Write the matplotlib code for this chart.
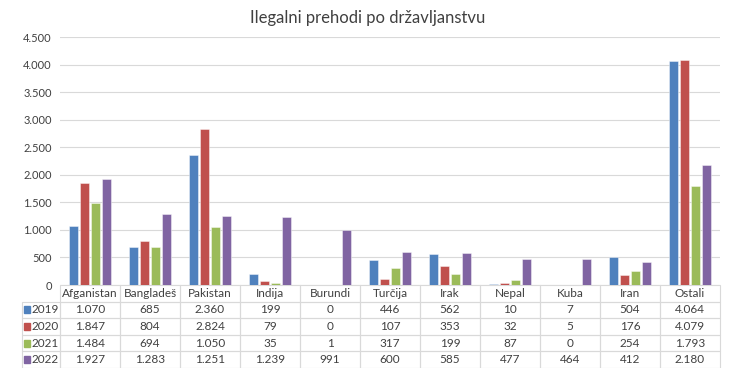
import numpy as np
import matplotlib
matplotlib.use("Agg")
import matplotlib.pyplot as plt

countries = ["Afganistan", "Bangladeš", "Pakistan", "Indija", "Burundi", "Turčija",
             "Irak", "Nepal", "Kuba", "Iran", "Ostali"]
years = ["2019", "2020", "2021", "2022"]
v2019 = [1070, 685, 2360, 199, 0, 446, 562, 10, 7, 504, 4064]
v2020 = [1847, 804, 2824, 79, 0, 107, 353, 32, 5, 176, 4079]
v2021 = [1484, 694, 1050, 35, 1, 317, 199, 87, 0, 254, 1793]
v2022 = [1927, 1283, 1251, 1239, 991, 600, 585, 477, 464, 412, 2180]
yticks = [0, 500, 1000, 1500, 2000, 2500, 3000, 3500, 4000, 4500]

series = [v2019, v2020, v2021, v2022]
colors = ["#4F81BD", "#C0504D", "#9BBB59", "#8064A2"]

def fmt(v):
    return f"{v:,}".replace(",", ".")

plt.rcParams["font.family"] = ["Lato", "DejaVu Sans"]

W, H = 736, 368
fig = plt.figure(figsize=(W / 100, H / 100), dpi=100)
x0, x1, ytop, ybot = 60, 720, 37, 285
ax = fig.add_axes([x0 / W, 1 - ybot / H, (x1 - x0) / W, (ybot - ytop) / H])

n = len(countries)
x = np.arange(n)
pitch = 0.183
bw = 0.15
for i, (vals, c) in enumerate(zip(series, colors)):
    ax.bar(x + (i - 1.5) * pitch, vals, width=bw, color=c,
           edgecolor=(1, 1, 1, 0.5), linewidth=0.6, zorder=3)

ax.set_xlim(-0.5, n - 0.5)
ax.set_ylim(0, 4500)
ax.set_yticks(yticks)
ax.set_yticklabels([fmt(t) for t in yticks], fontsize=8, color="#404040")
ax.tick_params(axis="y", length=0, pad=6)
ax.set_xticks([])
ax.grid(axis="y", color="#D9D9D9", linewidth=0.8, zorder=0)
for s in ax.spines.values():
    s.set_visible(False)

fig.text(0.5, 1 - 18 / H, "Ilegalni prehodi po državljanstvu",
         ha="center", va="center", fontsize=12, color="#404040")

# data table below the plot
axw = x1 - x0
axh = ybot - ytop
lab_w = 38
cell_text = [[""] + countries] + [[y] + [fmt(v) for v in vals] for y, vals in zip(years, series)]
col_w = [lab_w / axw] + [1.0 / n] * n
tbl = ax.table(cellText=cell_text, colWidths=col_w, cellLoc="center",
               bbox=[-lab_w / axw, -83 / axh, (axw + lab_w) / axw, 83 / axh])
tbl.auto_set_font_size(False)
for (r, c), cell in tbl.get_celld().items():
    cell.set_edgecolor("#D9D9D9")
    cell.set_linewidth(0.8)
    cell.get_text().set_fontsize(8.5)
    cell.get_text().set_color("#404040")
    cell.set_facecolor("none")
    if r == 0 and c == 0:
        cell.visible_edges = ""
    if r > 0 and c == 0:
        cell.get_text().set_ha("right")
        cell._loc = "right"
        cell.PAD = 0.03

# legend keys in the row labels
row_h = 83 / 5
for i, c in enumerate(colors):
    yc = ybot + row_h * (i + 1.5)
    fig.patches.append(plt.Rectangle((24 / W, 1 - (yc + 3.5) / H), 6 / W, 7 / H,
                                     transform=fig.transFigure, color=c, figure=fig))

fig.savefig("out.png", dpi=100)
